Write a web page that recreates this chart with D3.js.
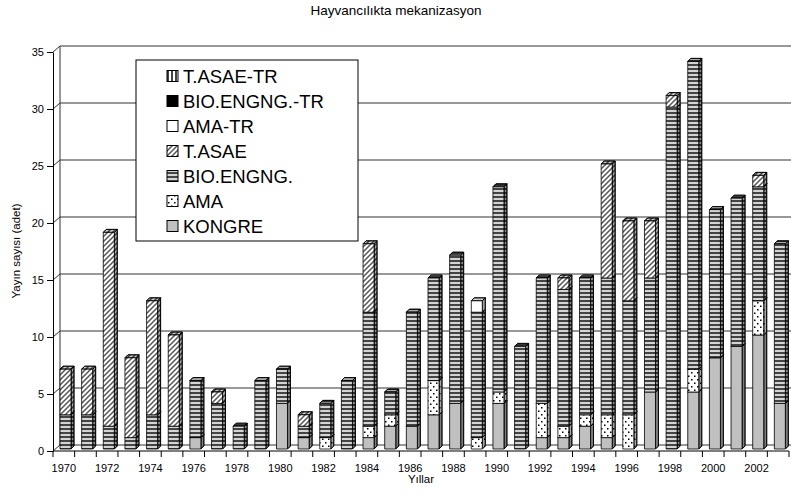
<!DOCTYPE html>
<html>
<head>
<meta charset="utf-8">
<script src="https://cdn.jsdelivr.net/npm/d3@7"></script>
<style>
  html, body { margin: 0; padding: 0; background: #fff; }
  svg { display: block; font-family: "Liberation Sans", Arial, sans-serif; }
</style>
</head>
<body>
<svg id="chart" width="791" height="496"></svg>
<script>
// categories
const years = [1970, 1971, 1972, 1973, 1974, 1975, 1976, 1977, 1978, 1979,
  1980, 1981, 1982, 1983, 1984, 1985, 1986, 1987, 1988, 1989,
  1990, 1991, 1992, 1993, 1994, 1995, 1996, 1997, 1998, 1999,
  2000, 2001, 2002, 2003]

// series, bottom of the stack first
const kongre     = [0,0,0,0,0,0,1,0,0,0, 4,1,0,0,1,2,2,3,4,0, 4,0,1,1,2,1,0,5,0,5, 8,9,10,4]
const ama        = [0,0,0,0,0,0,0,0,0,0, 0,0,1,0,1,1,0,3,0,1, 1,0,3,1,1,2,3,0,0,2, 0,0,3,0]
const bioEngng   = [3,3,2,1,3,2,5,4,2,6, 3,1,3,6,10,2,10,9,13,11, 18,9,11,12,12,12,10,10,30,27, 13,13,10,14]
const tAsae      = [4,4,17,7,10,8,0,1,0,0, 0,1,0,0,6,0,0,0,0,0, 0,0,0,1,0,10,7,5,1,0, 0,0,1,0]
const amaTr      = [0,0,0,0,0,0,0,0,0,0, 0,0,0,0,0,0,0,0,0,1, 0,0,0,0,0,0,0,0,0,0, 0,0,0,0]
const bioEngngTr = [0,0,0,0,0,0,0,0,0,0, 0,0,0,0,0,0,0,0,0,0, 0,0,0,0,0,0,0,0,0,0, 0,0,0,0]
const tAsaeTr    = [0,0,0,0,0,0,0,0,0,0, 0,0,0,0,0,0,0,0,0,0, 0,0,0,0,0,0,0,0,0,0, 0,0,0,0]

const seriesNames = ['KONGRE', 'AMA', 'BIO.ENGNG.', 'T.ASAE', 'AMA-TR', 'BIO.ENGNG.-TR', 'T.ASAE-TR']
const seriesValues = [kongre, ama, bioEngng, tAsae, amaTr, bioEngngTr, tAsaeTr]
const seriesFill = ['kongre', 'ama', 'bio', 'tasae', 'amatr', 'biotr', 'tasaetr']

const yTicks = [0, 5, 10, 15, 20, 25, 30, 35]
const title = 'Hayvancılıkta mekanizasyon'
const yTitle = 'Yayın sayısı (adet)'
const xTitle = 'Yıllar'

const rows = years.map((yr, i) => {
  let r = { year: yr }
  seriesNames.forEach((k, j) => r[k] = seriesValues[j][i])
  return r
})
const stacked = d3.stack().keys(seriesNames)(rows)

const svg = d3.select('#chart')
const x = d3.scaleBand().domain(years).range([53, 789])
const y = d3.scaleLinear().domain([0, 35]).range([451, 52])
const wall = { dx: 7, dy: -6 }     // back wall offset
const bar = { off: 7, w: 11, d: 3, lift: 2 }

// patterns
const defs = svg.append('defs')
let p = defs.append('pattern').attr('id', 'bio').attr('patternUnits', 'userSpaceOnUse').attr('width', 4).attr('height', 4)
p.append('rect').attr('width', 4).attr('height', 4).attr('fill', '#d4d4d4')
p.append('rect').attr('width', 4).attr('height', 2).attr('fill', '#444')

p = defs.append('pattern').attr('id', 'tasae').attr('patternUnits', 'userSpaceOnUse').attr('width', 5).attr('height', 5)
p.append('rect').attr('width', 5).attr('height', 5).attr('fill', '#fff')
p.append('path').attr('d', 'M-1,6 L6,-1 M-1,1 L1,-1 M4,6 L6,4').attr('stroke', '#555').attr('stroke-width', 1.5)

p = defs.append('pattern').attr('id', 'ama').attr('patternUnits', 'userSpaceOnUse').attr('width', 6).attr('height', 7)
p.append('rect').attr('width', 6).attr('height', 7).attr('fill', '#fff')
p.append('rect').attr('x', 1).attr('y', 1).attr('width', 1.5).attr('height', 1.5).attr('fill', '#000')
p.append('rect').attr('x', 4).attr('y', 4.5).attr('width', 1.5).attr('height', 1.5).attr('fill', '#000')

p = defs.append('pattern').attr('id', 'tasaetr').attr('patternUnits', 'userSpaceOnUse').attr('width', 4).attr('height', 4)
p.append('rect').attr('width', 4).attr('height', 4).attr('fill', '#fff')
p.append('rect').attr('width', 2).attr('height', 4).attr('fill', '#444')

const fillOf = id => ({ kongre: '#c0c0c0', amatr: '#fff', biotr: '#000' })[id] || `url(#${id})`

// back wall, grid and floor
const grid = svg.append('g').attr('stroke', '#333').attr('stroke-width', 1)
grid.selectAll('.gl').data(yTicks).join('line')
  .attr('x1', 53 + wall.dx).attr('x2', 791)
  .attr('y1', d => y(d) + wall.dy).attr('y2', d => y(d) + wall.dy)
grid.selectAll('.dg').data(yTicks).join('line')
  .attr('x1', 53).attr('x2', 53 + wall.dx)
  .attr('y1', d => y(d)).attr('y2', d => y(d) + wall.dy)
grid.append('line')
  .attr('x1', 53 + wall.dx).attr('x2', 53 + wall.dx)
  .attr('y1', y(0) + wall.dy).attr('y2', y(35) + wall.dy)

// bars
stacked.forEach((layer, li) => {
  const fill = fillOf(seriesFill[li])
  const g = svg.append('g').attr('stroke', '#000').attr('stroke-width', 0.8).attr('stroke-linejoin', 'round')
  const segs = layer.filter(d => d[1] > d[0])
  const bx = d => x(d.data.year) + bar.off
  const yt = d => y(d[1]) - bar.lift
  const yb = d => y(d[0]) - bar.lift
  const side = d => [[bx(d) + bar.w, yt(d)], [bx(d) + bar.w + bar.d, yt(d) - bar.d],
    [bx(d) + bar.w + bar.d, yb(d) - bar.d], [bx(d) + bar.w, yb(d)]].join(' ')
  const top = d => [[bx(d), yt(d)], [bx(d) + bar.d, yt(d) - bar.d],
    [bx(d) + bar.w + bar.d, yt(d) - bar.d], [bx(d) + bar.w, yt(d)]].join(' ')
  g.selectAll('.side').data(segs).join('polygon').attr('points', side).attr('fill', fill)
  g.selectAll('.sideShade').data(segs).join('polygon').attr('points', side).attr('fill', 'rgba(0,0,0,0.35)')
  g.selectAll('.top').data(segs).join('polygon').attr('points', top).attr('fill', fill)
  g.selectAll('.topShade').data(segs).join('polygon').attr('points', top).attr('fill', 'rgba(0,0,0,0.2)')
  g.selectAll('.front').data(segs).join('rect')
    .attr('x', bx).attr('y', yt).attr('width', bar.w).attr('height', d => yb(d) - yt(d))
    .attr('fill', fill)
})

// y axis
const yAxis = svg.append('g').attr('transform', 'translate(53,0)')
  .call(d3.axisLeft(y).tickValues(yTicks).tickSize(6).tickSizeOuter(0).tickPadding(3))
yAxis.selectAll('text').attr('font-size', 11).attr('fill', '#000').attr('font-family', '"Liberation Sans", Arial, sans-serif')
yAxis.select('.domain').attr('stroke', '#000')

// x axis
svg.append('line').attr('x1', 53).attr('x2', 789).attr('y1', y(0)).attr('y2', y(0)).attr('stroke', '#000')
const bounds = years.map(d => x(d)).concat([x.range()[1]])
svg.append('g').selectAll('line').data(bounds).join('line')
  .attr('x1', d => d).attr('x2', d => d).attr('y1', y(0)).attr('y2', y(0) + 6).attr('stroke', '#000')
const xAxis = svg.append('g').attr('transform', `translate(0,${y(0)})`)
  .call(d3.axisBottom(x).tickValues(years.filter(d => d % 2 === 0)).tickSize(0).tickPadding(13))
xAxis.select('.domain').remove()
xAxis.selectAll('text').attr('font-size', 11).attr('fill', '#000').attr('font-family', '"Liberation Sans", Arial, sans-serif')

// titles
svg.append('text').attr('x', 396).attr('y', 15).attr('text-anchor', 'middle').attr('font-size', 13.5).text(title)
svg.append('text').attr('transform', 'translate(20,251) rotate(-90)').attr('text-anchor', 'middle').attr('font-size', 11.5).text(yTitle)
svg.append('text').attr('x', 421).attr('y', 483).attr('text-anchor', 'middle').attr('font-size', 11.5).text(xTitle)

// legend
const legend = svg.append('g')
legend.append('rect').attr('x', 136).attr('y', 60).attr('width', 222).attr('height', 181)
  .attr('fill', '#fff').attr('stroke', '#000')
const items = legend.selectAll('.item').data(seriesNames.map((n, i) => i).reverse()).join('g')
  .attr('transform', (d, i) => `translate(167,${76 + i * 25})`)
items.append('rect').attr('x', 0).attr('y', -5.5).attr('width', 11).attr('height', 11)
  .attr('fill', d => fillOf(seriesFill[d])).attr('stroke', '#000')
items.append('text').attr('x', 16).attr('y', 6.5).attr('font-size', 18.5).text(d => seriesNames[d])
</script>
</body>
</html>
